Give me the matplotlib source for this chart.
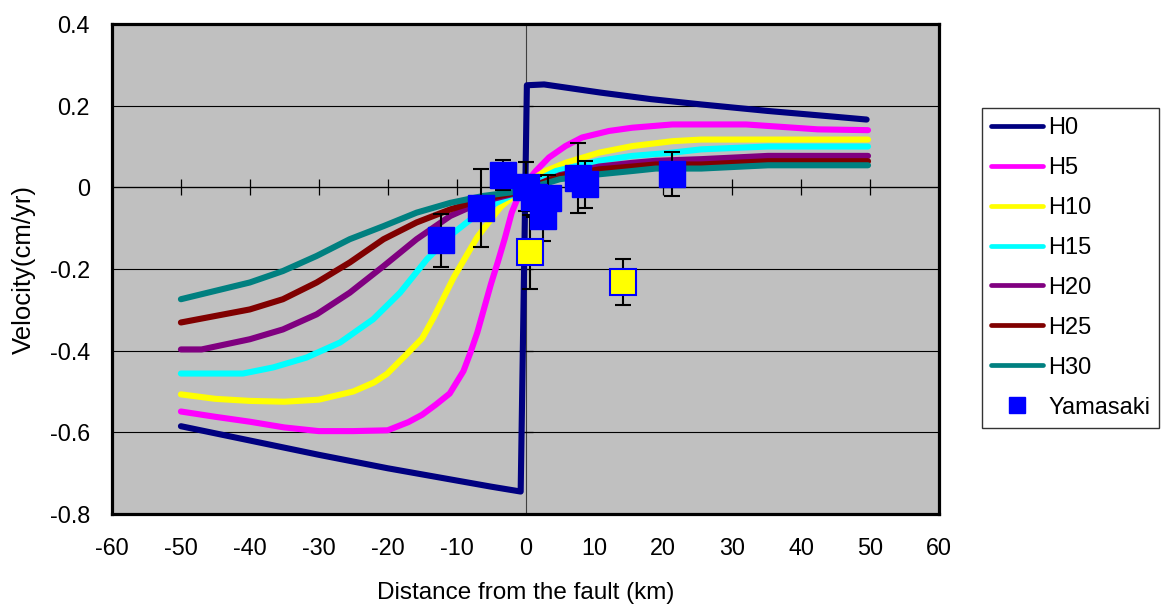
import matplotlib
matplotlib.use("Agg")

import matplotlib.pyplot as plt
from matplotlib.lines import Line2D

plt.rcParams['font.family'] = ['Liberation Sans', 'DejaVu Sans']
plt.rcParams['axes.unicode_minus'] = False

# model curves (distance in km, velocity in cm/yr)
H0_X = [-50, -40, -30, -20, -10, -5, -0.7, 0.2, 2.7, 10.9, 18.2, 25.5, 35.2, 44.8, 49.5]
H0_V = [-0.585, -0.620, -0.655, -0.688, -0.718, -0.733, -0.745, 0.250, 0.252, 0.232, 0.216,
        0.203, 0.187, 0.173, 0.166]

H5_X = [-50, -45, -40, -35, -30, -25, -20, -17, -15, -13, -11, -9, -8, -7, -6, -5, -4, -3,
        -2, -1, 0, 1.5, 3.4, 5.8, 8.2, 12.1, 15.5, 21.3, 32, 42.4, 49.7]
H5_V = [-0.549, -0.562, -0.574, -0.588, -0.597, -0.597, -0.595, -0.575, -0.557, -0.532,
        -0.505, -0.450, -0.405, -0.356, -0.296, -0.236, -0.182, -0.125, -0.062, -0.021,
        0.010, 0.040, 0.073, 0.101, 0.122, 0.138, 0.146, 0.154, 0.154, 0.142, 0.140]

H10_X = [-50, -45, -40, -35, -30, -25, -22, -20.1, -17.2, -15, -13.3, -10.4, -7, -5, -3.6,
         -2, -1, 0, 1, 2.9, 5.8, 10.7, 15.5, 21.3, 25.5, 49.7]
H10_V = [-0.507, -0.518, -0.523, -0.525, -0.520, -0.500, -0.478, -0.457, -0.408, -0.370,
         -0.318, -0.220, -0.122, -0.078, -0.048, -0.025, -0.015, 0.005, 0.020, 0.040,
         0.060, 0.085, 0.101, 0.113, 0.117, 0.117]

H15_X = [-50, -45, -41, -36.6, -31.8, -26.9, -22.1, -18.2, -14.3, -10.4, -6.1, -2.2, 0, 2,
         4.4, 10.7, 15.5, 21.3, 25.5, 35.2, 49.7]
H15_V = [-0.456, -0.456, -0.456, -0.441, -0.417, -0.380, -0.323, -0.258, -0.176, -0.111,
         -0.054, -0.021, 0.000, 0.020, 0.040, 0.065, 0.077, 0.085, 0.093, 0.100, 0.100]

H20_X = [-50, -47, -40, -35.2, -30.3, -25.5, -20.6, -15.8, -10.9, -6.1, -2, 0, 5, 10.7,
         15.5, 18.9, 25.5, 35.2, 49.7]
H20_V = [-0.397, -0.397, -0.372, -0.348, -0.311, -0.258, -0.193, -0.127, -0.070, -0.034,
         -0.017, -0.005, 0.030, 0.051, 0.060, 0.065, 0.069, 0.077, 0.077]

H25_X = [-50, -40, -35.2, -30.3, -25.5, -20.6, -15.8, -10.9, -6.1, -2, 0, 5, 10.7, 15.5,
         18.9, 25.5, 35.2, 49.7]
H25_V = [-0.331, -0.299, -0.274, -0.233, -0.184, -0.127, -0.086, -0.054, -0.029, -0.015,
         -0.005, 0.028, 0.044, 0.051, 0.056, 0.056, 0.064, 0.064]

H30_X = [-50, -40, -35.2, -30.3, -25.5, -20.6, -15.8, -10.9, -6.1, -2, 0, 5, 10.7, 15.5,
         18.9, 25.5, 35.2, 49.7]
H30_V = [-0.274, -0.233, -0.205, -0.168, -0.127, -0.095, -0.062, -0.038, -0.021, -0.012,
         -0.005, 0.020, 0.032, 0.040, 0.046, 0.046, 0.054, 0.054]

CURVES = [
    ("H0", H0_X, H0_V, "#000080"),
    ("H5", H5_X, H5_V, "#FF00FF"),
    ("H10", H10_X, H10_V, "#FFFF00"),
    ("H15", H15_X, H15_V, "#00FFFF"),
    ("H20", H20_X, H20_V, "#800080"),
    ("H25", H25_X, H25_V, "#800000"),
    ("H30", H30_X, H30_V, "#008080"),
]

# Yamasaki observations
OBS_X = [-12.2, -6.4, -3.2, 0.0, 1.2, 3.2, 2.6, 7.6, 8.7, 21.2]
OBS_V = [-0.130, -0.051, 0.031, 0.002, -0.023, -0.026, -0.071, 0.023, 0.007, 0.032]
OBS_ERR = [0.064, 0.096, 0.037, 0.061, 0.050, 0.056, 0.060, 0.086, 0.057, 0.054]

# points shown in yellow
OUT_X = [0.6, 14.2]
OUT_V = [-0.159, -0.232]
OUT_ERR = [0.091, 0.057]

X_TICKS = [-60, -50, -40, -30, -20, -10, 0, 10, 20, 30, 40, 50, 60]
Y_TICKS = [-0.8, -0.6, -0.4, -0.2, 0.0, 0.2, 0.4]
Y_TICK_LABELS = ["-0.8", "-0.6", "-0.4", "-0.2", "0", "0.2", "0.4"]

fig = plt.figure(figsize=(11.67, 6.08), dpi=100)
ax = fig.add_axes([112 / 1167, 1 - 514 / 608, 827 / 1167, 490 / 608])
ax.set_facecolor('#C0C0C0')

ax.set_xlim(X_TICKS[0], X_TICKS[-1])
ax.set_ylim(Y_TICKS[0], Y_TICKS[-1])
ax.set_xticks(X_TICKS)
ax.set_xticklabels([str(t) for t in X_TICKS])
ax.set_yticks(Y_TICKS)
ax.set_yticklabels(Y_TICK_LABELS)
ax.tick_params(axis='both', length=0, labelsize=16.8, colors='black')
ax.tick_params(axis='x', pad=16.5)
ax.tick_params(axis='y', pad=16)

ax.yaxis.grid(True, color='black', linewidth=0.8)
ax.set_axisbelow(True)
for sp in ax.spines.values():
    sp.set_linewidth(2.3)
    sp.set_color('black')

# axes crossing at the origin, with cross ticks
ax.axhline(0, color='black', linewidth=0.9, zorder=1)
ax.axvline(0, color='#404040', linewidth=0.8, zorder=1)
ax.plot(X_TICKS[1:-1], [0] * (len(X_TICKS) - 2), linestyle='none', marker='|',
        markersize=11.5, markeredgewidth=0.9, color='black', zorder=1)
ax.plot([0] * (len(Y_TICKS) - 2), Y_TICKS[1:-1], linestyle='none', marker='_',
        markersize=10, markeredgewidth=0.9, color='black', zorder=1)

handles = []
for name, xs, vs, col in CURVES:
    ln, = ax.plot(xs, vs, color=col, linewidth=4.4, solid_capstyle='round',
                  solid_joinstyle='round', label=name, zorder=2)
    handles.append(ln)

ax.errorbar(OBS_X, OBS_V, yerr=OBS_ERR, fmt='none', ecolor='black', elinewidth=1.5,
            capsize=5.5, capthick=1.5, zorder=3)
ax.errorbar(OUT_X, OUT_V, yerr=OUT_ERR, fmt='none', ecolor='black', elinewidth=1.5,
            capsize=5.5, capthick=1.5, zorder=3)
ax.plot(OBS_X, OBS_V, linestyle='none', marker='s', markersize=19, markerfacecolor='#0000FF',
        markeredgecolor='#0000FF', markeredgewidth=1, zorder=4)
ax.plot(OUT_X, OUT_V, linestyle='none', marker='s', markersize=18.5, markerfacecolor='#FFFF00',
        markeredgecolor='#0000FF', markeredgewidth=1.5, zorder=4)

handles.append(Line2D([], [], linestyle='none', marker='s', markersize=11,
                      markerfacecolor='#0000FF', markeredgecolor='#0000FF', label='Yamasaki'))
leg = fig.legend(handles=handles, loc='upper left',
                 bbox_to_anchor=(982 / 1167, 1 - 108 / 608), borderaxespad=0,
                 fontsize=17, frameon=True, fancybox=False, shadow=False,
                 handlelength=2.2, handletextpad=0.22, borderpad=0.38,
                 labelspacing=0.76)
leg.get_frame().set_edgecolor('black')
leg.get_frame().set_linewidth(1.0)
for h in leg.get_lines()[:7]:
    h.set_linewidth(3.4)

ax.set_xlabel('Distance from the fault (km)', fontsize=17.5)
ax.xaxis.set_label_coords(0.5, -0.138)
ax.set_ylabel('Velocity(cm/yr)', fontsize=18.5)
ax.yaxis.set_label_coords(-0.092, 0.5)

fig.savefig('out.png', dpi=100)
